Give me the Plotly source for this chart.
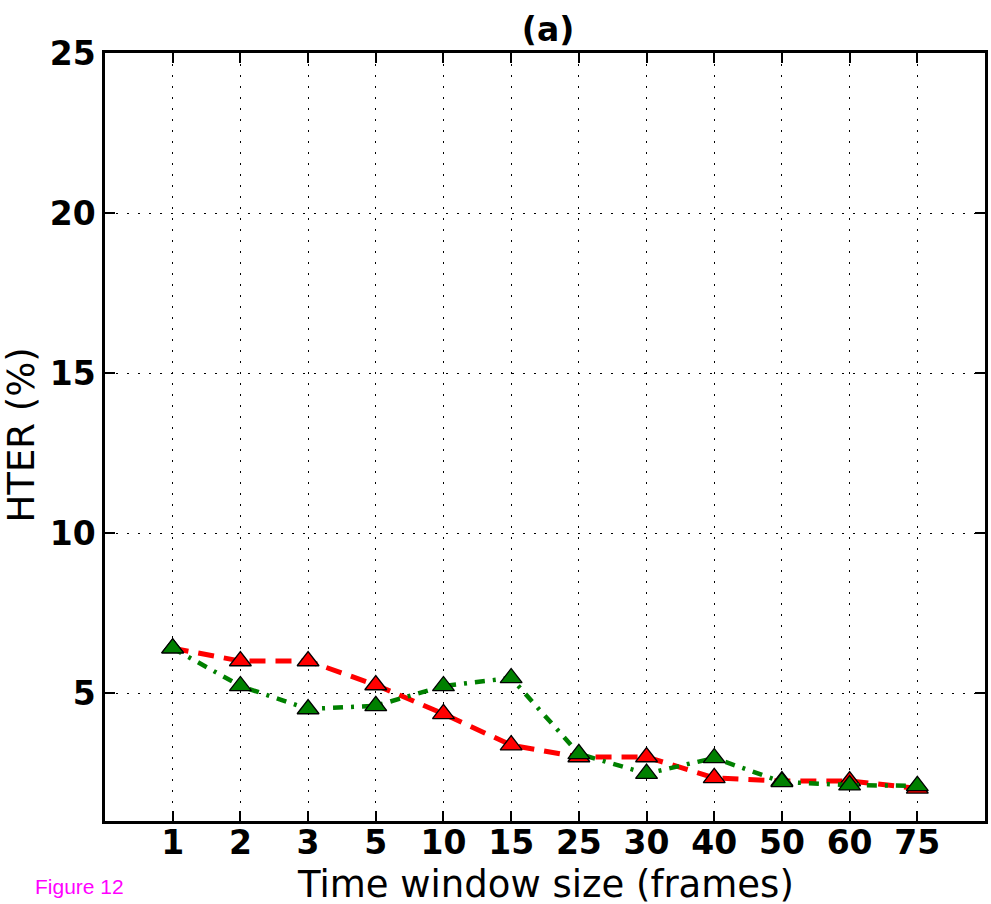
import plotly.graph_objects as go

# window sizes (frames) shown as evenly spaced categories
windows = ['1', '2', '3', '5', '10', '15', '25', '30', '40', '50', '60', '75']
hter_red = [6.4, 6.0, 6.0, 5.25, 4.35, 3.37, 3.0, 3.0, 2.35, 2.25, 2.25, 2.02]
hter_green = [6.4, 5.22, 4.5, 4.6, 5.22, 5.47, 3.1, 2.48, 2.97, 2.22, 2.12, 2.1]
ytick_vals = [5, 10, 15, 20, 25]

pos = list(range(len(windows)))

fig = go.Figure()

fig.add_trace(go.Scatter(
    x=pos, y=hter_red, mode='lines+markers',
    line=dict(color='#ff0000', width=5, dash='16px,10px'),
    marker=dict(symbol='triangle-up', size=19, color='#ff0000',
                line=dict(color='black', width=1.3)),
    showlegend=False,
))
fig.add_trace(go.Scatter(
    x=pos, y=hter_green, mode='lines+markers',
    line=dict(color='#008000', width=4.5, dash='10px,8px,3px,8px'),
    marker=dict(symbol='triangle-up', size=19, color='#008000',
                line=dict(color='black', width=1.3)),
    showlegend=False,
))

axis_font = dict(family='DejaVu Sans', size=37, color='black')
tick_font = dict(family='DejaVu Sans', size=33, color='black', weight='bold')

fig.update_xaxes(
    range=[-1, 12], tickvals=pos, ticktext=windows, automargin=False,
    ticks='inside', ticklen=10, tickwidth=1.5, tickcolor='black',
    showline=True, linecolor='black', linewidth=2.5, mirror='ticks',
    showgrid=True, gridcolor='black', gridwidth=1.2, griddash='2px,9px',
    zeroline=False, tickfont=tick_font, ticklabelstandoff=-9,
)
fig.update_yaxes(
    range=[1, 25], tickvals=ytick_vals, automargin=False,
    ticks='inside', ticklen=10, tickwidth=1.5, tickcolor='black',
    showline=True, linecolor='black', linewidth=2.5, mirror='ticks',
    showgrid=True, gridcolor='black', gridwidth=1.2, griddash='2px,9px',
    zeroline=False, tickfont=tick_font,
)

fig.update_layout(
    width=991, height=904,
    margin=dict(l=105, r=6, t=53, b=83),
    plot_bgcolor='white', paper_bgcolor='white',
    title=dict(text='<b>(a)</b>', x=0.553, xanchor='center', y=0.967,
               yanchor='middle', font=dict(family='DejaVu Sans', size=33, color='black')),
)

# axis titles
fig.add_annotation(
    text='Time window size (frames)', xref='paper', yref='paper', x=0.5, y=-0.083,
    xanchor='center', yanchor='middle', showarrow=False, font=axis_font,
)
fig.add_annotation(
    text='HTER (%)', xref='paper', yref='paper', x=-0.096, y=0.5026, textangle=-90,
    xanchor='center', yanchor='middle', showarrow=False, font=axis_font,
)

fig.add_annotation(
    text='Figure 12', xref='paper', yref='paper', x=-0.082, y=-0.085,
    xanchor='left', yanchor='middle', showarrow=False,
    font=dict(family='Liberation Sans', size=21, color='#ff00ff'),
)

fig.write_html("out.html", config={'displayModeBar': False},
               post_script="document.body.style.margin='0';")
